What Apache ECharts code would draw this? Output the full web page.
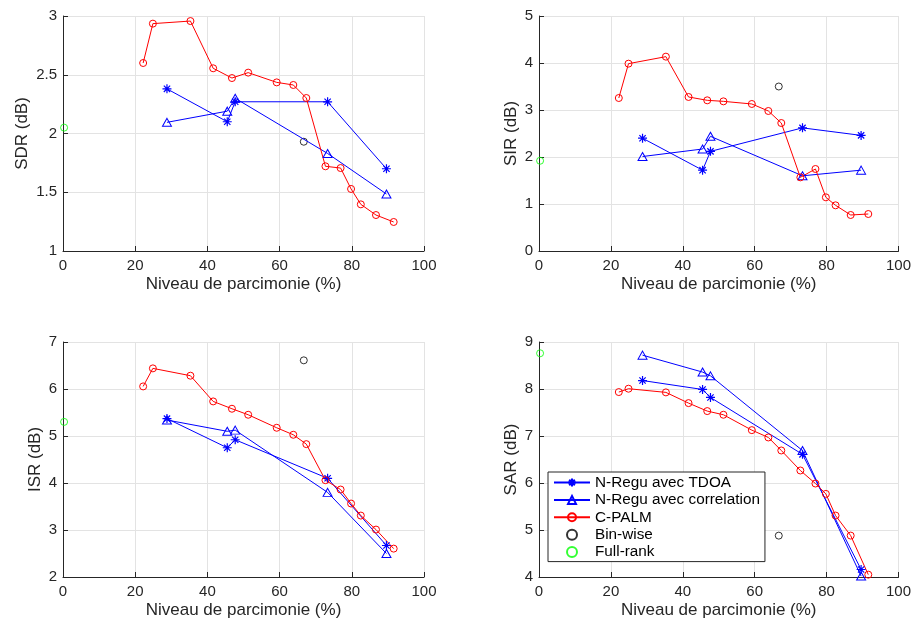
<!DOCTYPE html>
<html>
<head>
<meta charset="utf-8">
<script src="https://cdn.jsdelivr.net/npm/echarts@6/dist/echarts.min.js"></script>
<style>
html,body{margin:0;padding:0;background:#fff;}
#chart{width:914px;height:620px;}
</style>
</head>
<body>
<div id="chart"></div>
<script>
// ---------- data ----------
const seriesNames = ['N-Regu avec TDOA', 'N-Regu avec correlation', 'C-PALM', 'Bin-wise', 'Full-rank'];
const xLabel = 'Niveau de parcimonie (%)';
const yLabels = ['SDR (dB)', 'SIR (dB)', 'ISR (dB)', 'SAR (dB)'];

const xPalm = [22.2, 24.9, 35.3, 41.6, 46.8, 51.3, 59.2, 63.8, 67.4, 72.7, 76.9, 79.8, 82.5, 86.7, 91.6];
const xRegu = [28.8, 45.5, 47.7, 73.3, 89.6];
const xBin = 66.7;
const xFull = 0.3;

const sdrTdoa = [2.38, 2.10, 2.27, 2.27, 1.70];
const sdrCorr = [2.095, 2.19, 2.30, 1.83, 1.485];
const sdrPalm = [2.60, 2.935, 2.957, 2.555, 2.472, 2.518, 2.435, 2.413, 2.302, 1.721, 1.706, 1.528, 1.397, 1.306, 1.247];
const sdrBin = 1.93;
const sdrFull = 2.05;

const sirTdoa = [2.40, 1.72, 2.12, 2.62, 2.46];
const sirCorr = [2.01, 2.17, 2.44, 1.60, 1.72];
const sirPalm = [3.255, 3.986, 4.135, 3.277, 3.206, 3.184, 3.128, 2.979, 2.723, 1.567, 1.745, 1.142, 0.972, 0.766, 0.787];
const sirBin = 3.50;
const sirFull = 1.92;

const isrTdoa = [5.37, 4.75, 4.92, 4.10, 2.67];
const isrCorr = [5.34, 5.10, 5.125, 3.80, 2.50];
const isrPalm = [6.055, 6.439, 6.283, 5.736, 5.580, 5.452, 5.175, 5.026, 4.827, 4.060, 3.861, 3.563, 3.307, 3.009, 2.604];
const isrBin = 6.61;
const isrFull = 5.30;

const sarTdoa = [8.18, 7.99, 7.82, 6.61, 4.16];
const sarCorr = [8.72, 8.36, 8.28, 6.69, 4.02];
const sarPalm = [7.935, 8.006, 7.928, 7.700, 7.530, 7.452, 7.125, 6.969, 6.692, 6.266, 5.989, 5.768, 5.307, 4.881, 4.050];
const sarBin = 4.88;
const sarFull = 8.76;

const xMin = 0, xMax = 100, xStep = 20;
const yMins = [1, 0, 2, 4];
const yMaxs = [3, 5, 7, 9];
const ySteps = [0.5, 1, 1, 1];

// ---------- chart ----------
const FONT = '"Liberation Sans", Arial, Helvetica, sans-serif';
const INK = '#262626';
const GRIDC = '#e3e3e3';
const STAR = 'path://M0,5L10,5M5,0L5,10M1.5,1.5L8.5,8.5M8.5,1.5L1.5,8.5';

const grids = [
  {left: 63, top: 16, width: 361, height: 235},
  {left: 539, top: 16, width: 361, height: 235},
  {left: 63, top: 342, width: 361, height: 235},
  {left: 539, top: 342, width: 361, height: 235}
];
const yNameGaps = [32, 19, 19, 19];

const panels = [
  [sdrTdoa, sdrCorr, sdrPalm, sdrBin, sdrFull],
  [sirTdoa, sirCorr, sirPalm, sirBin, sirFull],
  [isrTdoa, isrCorr, isrPalm, isrBin, isrFull],
  [sarTdoa, sarCorr, sarPalm, sarBin, sarFull]
];

const xAxes = [], yAxes = [], series = [];
panels.forEach((p, i) => {
  xAxes.push({
    type: 'value', gridIndex: i, min: xMin, max: xMax, interval: xStep,
    name: xLabel, nameLocation: 'middle', nameGap: 24.5,
    nameTextStyle: {fontFamily: FONT, fontSize: 17, color: INK},
    axisLine: {show: true, onZero: false, lineStyle: {color: INK, width: 1}},
    axisTick: {show: true, inside: true, length: 5, lineStyle: {color: INK}},
    axisLabel: {fontFamily: FONT, fontSize: 15, color: INK, margin: 7},
    splitLine: {show: true, lineStyle: {color: GRIDC, width: 1}}
  });
  yAxes.push({
    type: 'value', gridIndex: i, min: yMins[i], max: yMaxs[i], interval: ySteps[i],
    name: yLabels[i], nameLocation: 'middle', nameGap: yNameGaps[i],
    nameTextStyle: {fontFamily: FONT, fontSize: 17, color: INK},
    axisLine: {show: true, onZero: false, lineStyle: {color: INK, width: 1}},
    axisTick: {show: true, inside: true, length: 5, lineStyle: {color: INK}},
    axisLabel: {fontFamily: FONT, fontSize: 15, color: INK, margin: 6},
    splitLine: {show: true, lineStyle: {color: GRIDC, width: 1}}
  });
  const base = {xAxisIndex: i, yAxisIndex: i, animation: false, silent: true, emphasis: {disabled: true}};
  series.push(Object.assign({
    name: seriesNames[0], type: 'line',
    data: xRegu.map((x, k) => [x, p[0][k]]),
    symbol: STAR, symbolSize: 9, showAllSymbol: true,
    lineStyle: {color: '#0000ff', width: 1},
    itemStyle: {color: 'rgba(0,0,0,0)', borderColor: '#0000ff', borderWidth: 1.2}
  }, base));
  series.push(Object.assign({
    name: seriesNames[1], type: 'line',
    data: xRegu.map((x, k) => [x, p[1][k]]),
    symbol: 'triangle', symbolSize: [9, 8], showAllSymbol: true,
    lineStyle: {color: '#0000ff', width: 1},
    itemStyle: {color: 'rgba(0,0,0,0)', borderColor: '#0000ff', borderWidth: 1}
  }, base));
  series.push(Object.assign({
    name: seriesNames[2], type: 'line',
    data: xPalm.map((x, k) => [x, p[2][k]]),
    symbol: 'circle', symbolSize: 7, showAllSymbol: true,
    lineStyle: {color: '#ff0000', width: 1},
    itemStyle: {color: 'rgba(0,0,0,0)', borderColor: '#ff0000', borderWidth: 1}
  }, base));
  series.push(Object.assign({
    name: seriesNames[3], type: 'scatter',
    data: [[xBin, p[3]]],
    symbol: 'circle', symbolSize: 7,
    itemStyle: {color: 'rgba(0,0,0,0)', borderColor: '#000000', borderWidth: 1}
  }, base));
  series.push(Object.assign({
    name: seriesNames[4], type: 'scatter',
    data: [[xFull, p[4]]],
    symbol: 'circle', symbolSize: 7, clip: false,
    itemStyle: {color: 'rgba(0,0,0,0)', borderColor: '#00ff00', borderWidth: 1}
  }, base));
});

const chart = echarts.init(document.getElementById('chart'), null, {renderer: 'canvas'});
chart.setOption({
  backgroundColor: '#fff',
  animation: false,
  grid: grids,
  xAxis: xAxes,
  yAxis: yAxes,
  legend: {
    data: seriesNames,
    orient: 'vertical',
    left: 548, top: 472,
    padding: [3, 5, 2, 5],
    itemGap: 2.4,
    itemWidth: 36,
    itemHeight: 10,
    borderColor: INK,
    borderWidth: 1,
    backgroundColor: '#fff',
    selectedMode: false,
    textStyle: {fontFamily: FONT, fontSize: 15.3, color: '#000', lineHeight: 15}
  },
  series: series
});
</script>
</body>
</html>
